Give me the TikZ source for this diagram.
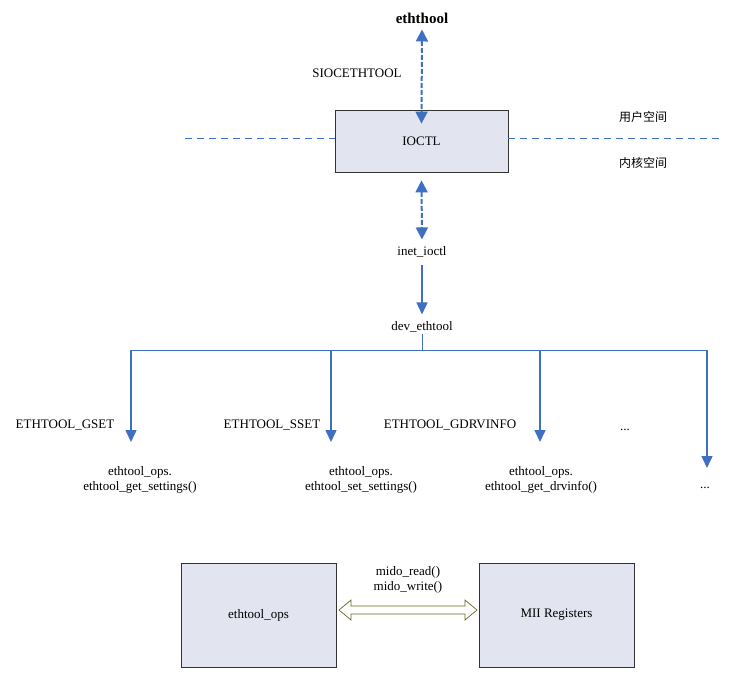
\documentclass[tikz,border=0pt]{standalone}
\usepackage{fontspec}
\setmainfont{Liberation Serif}
\newfontfamily\cjk{Noto Sans CJK SC}
\usetikzlibrary{arrows.meta}
\definecolor{ablue}{HTML}{3F6FC0}
\definecolor{boxfill}{HTML}{E2E5F0}
\begin{document}
\begin{tikzpicture}[x=1pt,y=-1pt,
  txt/.style={font=\fontsize{13}{15}\selectfont, align=center, inner sep=1pt},
  box/.style={draw=black!80, fill=boxfill, line width=0.8pt},
  darr/.style={draw=ablue, line width=2pt, dash pattern=on 5pt off 2pt, {Triangle[length=12pt,width=12pt]}-{Triangle[length=12pt,width=12pt]}},
  sarr/.style={draw=ablue, line width=1.5pt, -{Triangle[length=12pt,width=11pt]}},
  bl/.style={draw=ablue, line width=1pt}]
\useasboundingbox (0,0) rectangle (756,673);
\node[txt, font=\fontsize{15}{17}\selectfont\bfseries] (eth) at (422,18) {eththool};
\node[box, minimum width=173pt, minimum height=62pt, txt] (ioctl) at (421.5,141) {IOCTL};
\coordinate (l1) at (185,138); \coordinate (l2) at (720,138);
\draw[ablue, line width=0.9pt, dash pattern=on 7pt off 5pt] (l1) -- (ioctl.west |- l1);
\draw[ablue, line width=0.9pt, dash pattern=on 7pt off 5pt] (ioctl.east |- l2) -- (l2);
\node[txt, font=\cjk\fontsize{12}{14}\selectfont] (u) at (643,117) {用户空间};
\node[txt, font=\cjk\fontsize{12}{14}\selectfont] (k) at (643,163) {内核空间};
\draw[darr] ([yshift=-5pt]eth.south) -- ([yshift=-14pt]ioctl.north);
\node[txt] (sio) at (357,73) {SIOCETHTOOL};
\node[txt] (inet) at (422,252) {inet\_ioctl};
\draw[darr] ([yshift=-8pt]ioctl.south) -- ([yshift=6pt]inet.north);
\node[txt] (dev) at (422,327) {dev\_ethtool};
\draw[sarr] ([yshift=-6pt]inet.south) -- ([yshift=6pt]dev.north);
\coordinate (h0) at (422,350); \coordinate (ha) at (131,350); \coordinate (hd) at (707,350);
\coordinate (hb) at (331,350); \coordinate (hc) at (540,350);
\draw[bl] (dev.south) -- (h0);
\draw[bl] (ha) -- (hd);
\coordinate (ta) at (131,442); \coordinate (tb) at (331,442); \coordinate (tc) at (540,442); \coordinate (td) at (707,468);
\draw[sarr] (ha) -- (ta); \draw[sarr] (hb) -- (tb); \draw[sarr] (hc) -- (tc); \draw[sarr] (hd) -- (td);
\node[txt] (g1) at (65,425) {ETHTOOL\_GSET};
\node[txt] (g2) at (272,425) {ETHTOOL\_SSET};
\node[txt] (g3) at (450,425) {ETHTOOL\_GDRVINFO};
\node[txt] (g4) at (625,430) {...};
\node[txt] (o1) at (140,480) {ethtool\_ops.\\ethtool\_get\_settings()};
\node[txt] (o2) at (361,480) {ethtool\_ops.\\ethtool\_set\_settings()};
\node[txt] (o3) at (541,480) {ethtool\_ops.\\ethtool\_get\_drvinfo()};
\node[txt] (o4) at (705,488) {...};
\node[box, minimum width=155pt, minimum height=104pt, txt] (bo) at (258.5,615) {ethtool\_ops};
\node[box, minimum width=155pt, minimum height=104pt, txt] (mii) at (556.5,615) {MII Registers};
\draw[draw=olive!70!black, fill=white, line width=0.7pt]
  (339,610) -- ++(12,-10) -- ++(0,6) -- ++(114,0) -- ++(0,-6) -- ++(12,10) -- ++(-12,10) -- ++(0,-6) -- ++(-114,0) -- ++(0,6) -- cycle;
\node[txt] (mido) at (408,580) {mido\_read()\\mido\_write()};
\end{tikzpicture}
\end{document}
